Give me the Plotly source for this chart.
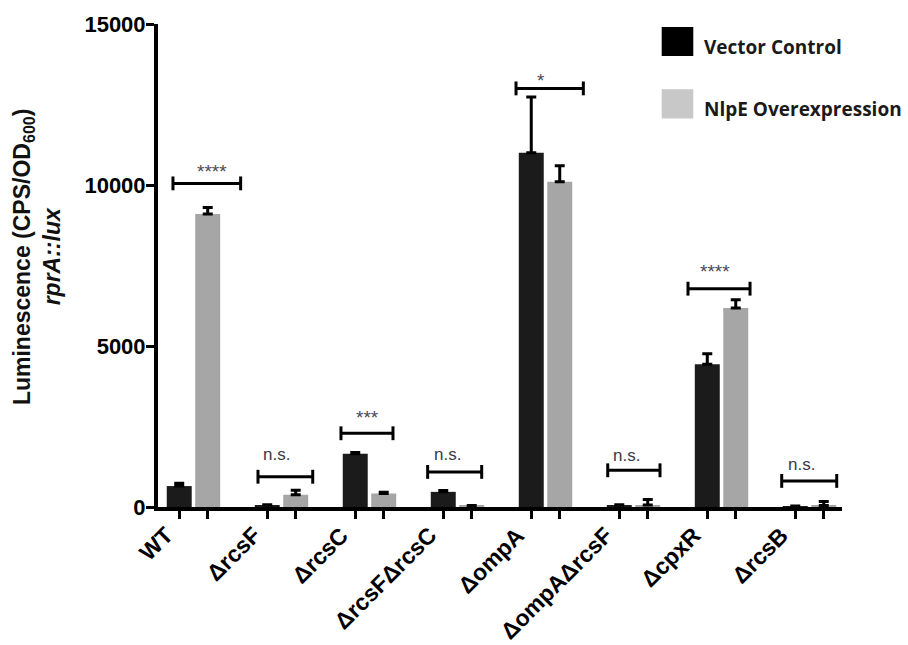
import plotly.graph_objects as go

# Strains (x categories)
groups = ["WT", "ΔrcsF", "ΔrcsC", "ΔrcsFΔrcsC", "ΔompA", "ΔompAΔrcsF", "ΔcpxR", "ΔrcsB"]

# Luminescence (CPS/OD600), mean and upper error (SEM)
vector_mean = [650, 60, 1650, 470, 11000, 60, 4430, 20]
vector_err = [90, 10, 40, 40, 1730, 10, 330, 10]
nlpe_mean = [9100, 380, 420, 40, 10100, 60, 6180, 50]
nlpe_err = [200, 140, 40, 10, 500, 170, 260, 120]

# Significance between the two conditions per strain
sig_labels = ["****", "n.s.", "***", "n.s.", "*", "n.s.", "****", "n.s."]

# Bracket placement: height (data units), left/right reach and label nudge (category units)
bracket_y = [10050, 940, 2290, 1090, 13000, 1140, 6780, 810]
bracket_lo = [-0.233, -0.267, -0.324, -0.339, -0.335, -0.293, -0.381, -0.316]
bracket_hi = [0.536, 0.355, 0.267, 0.275, 0.430, 0.301, 0.324, 0.309]
label_dx = [0.207, -0.055, -0.017, -0.108, -0.055, -0.077, -0.074, -0.089]
label_lift = [17, 24, 21, 19, 13, 17, 22, 18]

y_ticks = [0, 5000, 10000, 15000]

BLACK_BAR = "#1b1b1b"
GREY_BAR = "#a6a6a6"
BAR_GAP = 0.353
GROUP_GAP = 0.123
X_RANGE = [-0.403, 7.369]
CAP = 215  # half-height of the bracket end caps, data units
FONT = "Liberation Sans, Arial"

fig = go.Figure()

for name, mean, err, colour in [
    ("Vector Control", vector_mean, vector_err, BLACK_BAR),
    ("NlpE Overexpression", nlpe_mean, nlpe_err, GREY_BAR),
]:
    fig.add_bar(
        x=groups, y=mean, name=name,
        marker=dict(color=colour, line=dict(width=0)),
        error_y=dict(type="data", symmetric=False, array=err,
                     arrayminus=[0] * len(err), color="black",
                     thickness=3, width=5),
        showlegend=False,
    )

# Significance brackets on the numeric overlay axis
for i, (lo, hi, h) in enumerate(zip(bracket_lo, bracket_hi, bracket_y)):
    x0, x1 = i + lo, i + hi
    fig.add_scatter(
        x=[x0, x1, None, x0, x0, None, x1, x1],
        y=[h, h, None, h - CAP, h + CAP, None, h - CAP, h + CAP],
        xaxis="x2", yaxis="y", mode="lines",
        line=dict(color="black", width=3),
        showlegend=False, hoverinfo="skip",
    )

annotations = []
for i, (lab, h, dx, lift) in enumerate(zip(sig_labels, bracket_y, label_dx, label_lift)):
    star = lab.startswith("*")
    annotations.append(dict(
        x=i + dx, y=h, xref="x2", yref="y", text=lab, showarrow=False,
        xanchor="center", yanchor="middle",
        yshift=lift - (5 if star else 2),
        font=dict(family=FONT, size=19 if star else 17,
                  color="#4a4a56" if star else "#3a3a48"),
    ))

# Slanted strain names under each pair of bars
for i, g in enumerate(groups):
    annotations.append(dict(
        x=i, y=0, xref="x2", yref="y", text=g, textangle=-45, showarrow=False,
        xanchor="right", yanchor="top", xshift=-13, yshift=-12,
        font=dict(family=FONT, size=23, color="black", weight="bold"),
    ))

# Y-axis title (two lines)
annotations.append(dict(
    x=-0.1776, y=0.5185, xref="paper", yref="paper", textangle=-90,
    text="Luminescence (CPS/OD<sub>600</sub>)<br><i>rprA::lux</i>",
    showarrow=False, xanchor="center", yanchor="middle",
    font=dict(family=FONT, size=23, color="#111111", weight="bold"),
))

# Legend: large swatches with labels
legend_items = [("Vector Control", "#000000"), ("NlpE Overexpression", "#c8c8c8")]
shapes = []
for k, (label, colour) in enumerate(legend_items):
    top = 0.9938 - k * 0.129
    shapes.append(dict(type="rect", xref="paper", yref="paper",
                       x0=0.7364, x1=0.7826, y0=top - 0.0603, y1=top,
                       fillcolor=colour, line=dict(width=0)))
    annotations.append(dict(
        x=0.7949, y=top - 0.0418, xref="paper", yref="paper", text=label,
        showarrow=False, xanchor="left", yanchor="middle",
        font=dict(family="Open Sans, Arial", size=19, color="#1a1a1a", weight="bold"),
    ))

slot = (1 - BAR_GAP) / 2
bar_ticks = []
for i in range(len(groups)):
    bar_ticks += [i - slot / 2, i + slot / 2]

fig.update_layout(
    width=908, height=645,
    margin=dict(l=158, r=66, t=21, b=138),
    paper_bgcolor="white", plot_bgcolor="white",
    barmode="group", bargap=BAR_GAP, bargroupgap=GROUP_GAP,
    annotations=annotations, shapes=shapes,
    xaxis=dict(
        type="category", range=X_RANGE, ticks="", showticklabels=False,
        showline=False, showgrid=False, zeroline=False,
    ),
    xaxis2=dict(
        overlaying="x", anchor="y", side="bottom", type="linear", range=X_RANGE,
        tickvals=bar_ticks, ticks="outside", ticklen=8, tickwidth=3,
        tickcolor="black", showticklabels=False, showline=True,
        linewidth=4, linecolor="black", showgrid=False, zeroline=False,
    ),
    yaxis=dict(
        range=[0, 15000], tickvals=y_ticks, ticktext=[str(v) for v in y_ticks],
        ticks="outside", ticklen=8, tickwidth=3, tickcolor="black",
        showline=True, linewidth=4, linecolor="black",
        showgrid=False, zeroline=False, ticklabelstandoff=-4,
        tickfont=dict(family=FONT, size=22, color="black", weight="bold"),
    ),
    font=dict(family=FONT),
)

fig.write_html("out.html")
